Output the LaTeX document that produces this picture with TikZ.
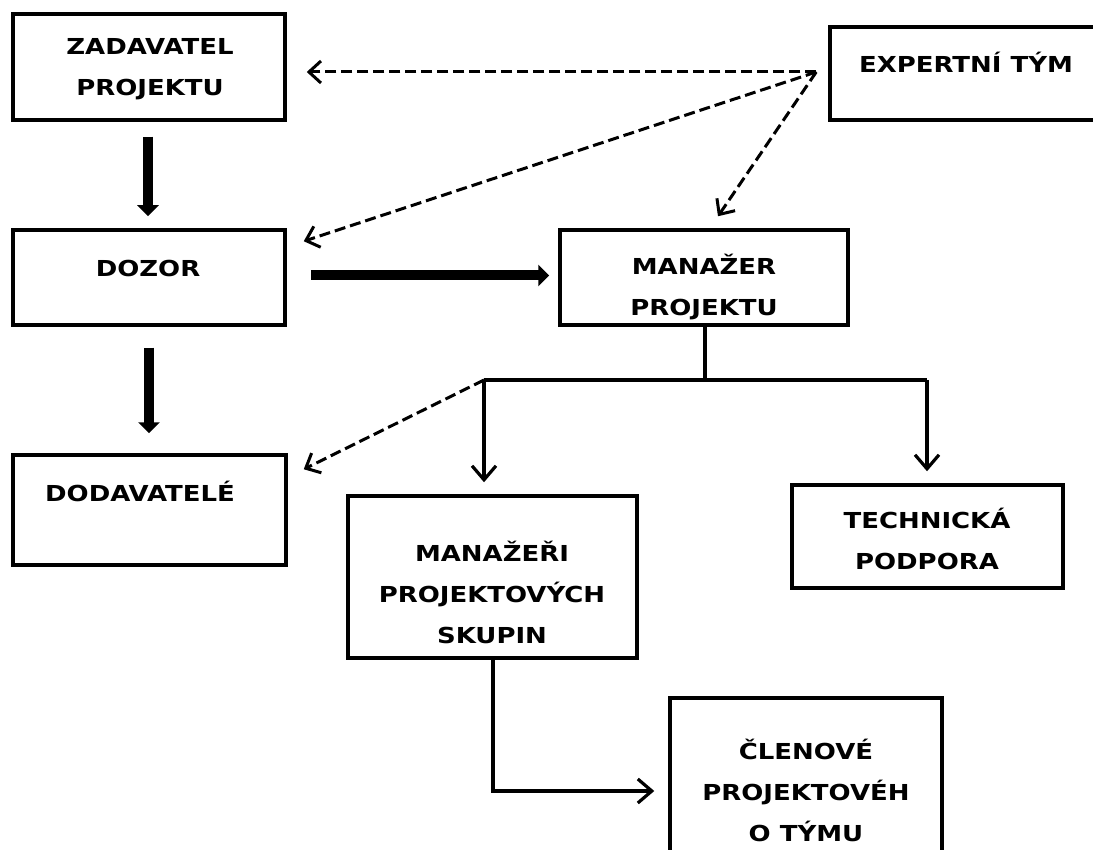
\documentclass[tikz,border=0pt]{standalone}
\usepackage{fontspec}
\setmainfont{DejaVu Sans}[FakeStretch=1.18]
\usetikzlibrary{arrows.meta,calc}
\begin{document}
\begin{tikzpicture}[x=1pt,y=-1pt,
  box/.style={draw,line width=3.5pt,rectangle,inner sep=0pt},
  lbl/.style={font=\fontsize{22}{41}\selectfont\bfseries,align=center,inner sep=0pt},
  dsh/.style={line width=3pt,dash pattern=on 11pt off 5pt,-{Straight Barb[length=12pt,width=22pt,line width=3pt]}},
  thinarr/.style={line width=3.2pt,-{Straight Barb[length=14pt,width=24pt,line width=3.2pt]}},
  plain/.style={line width=3.2pt},
  bigarr/.style={line width=10pt,-{Triangle[length=11pt,width=21pt]}}
]
\useasboundingbox (0,0) rectangle (1093,850);
\clip (0,0) rectangle (1093,850);
\fill[white] (0,0) rectangle (1093,850);

% boxes
\node[box,minimum width=272pt,minimum height=106pt] (zad) at (149,67) {};
\node[box,minimum width=285pt,minimum height=93pt] (exp) at (972.5,73.5) {};
\node[box,minimum width=272pt,minimum height=95pt] (doz) at (149,277.5) {};
\node[box,minimum width=288pt,minimum height=95pt] (mgr) at (704,277.5) {};
\node[box,minimum width=273pt,minimum height=110pt] (dod) at (149.5,510) {};
\node[box,minimum width=289pt,minimum height=162pt] (skup) at (492.5,577) {};
\node[box,minimum width=271pt,minimum height=103pt] (tech) at (927.5,536.5) {};
\node[box,minimum width=272pt,minimum height=172pt] (clen) at (806,784) {};

% texts
\node[lbl] (tzad) at (150,69) {ZADAVATEL\\PROJEKTU};
\node[lbl] (texp) at (966,62) {EXPERTNÍ TÝM};
\node[lbl] (tdoz) at (148,268) {DOZOR};
\node[lbl] (tmgr) at (704,287) {MANAŽER\\PROJEKTU};
\node[lbl] (tdod) at (140,491) {DODAVATELÉ};
\node[lbl] (tskup) at (492,592) {MANAŽEŘI\\PROJEKTOVÝCH\\SKUPIN};
\node[lbl] (ttech) at (927,539) {TECHNICKÁ\\PODPORA};
\node[lbl] (tclen) at (806,790) {ČLENOVÉ\\PROJEKTOVÉH\\O TÝMU};

% thick arrows
\draw[bigarr] ($(zad.south)+(-1,15)$) -- ($(doz.north)+(-1,-12)$);
\draw[bigarr] ($(doz.south)+(0,21)$) -- ($(dod.north)+(-0.5,-20)$);
\draw[bigarr] ($(doz.east)+(24,-2)$) -- ($(mgr.west)+(-9,-2)$);

% dashed arrows from expert team
\coordinate (eo) at ($(exp.west)+(-12,-1.5)$);
\draw[dsh] (eo) -- ($(zad.east)+(20,5)$);
\draw[dsh] (eo) -- ($(doz.north east)+(17,13)$);
\draw[dsh] (eo) -- ($(mgr.north)+(14,-12)$);

% branch from manager
\coordinate (bj) at ($(mgr.south)+(1,55)$);
\coordinate (bl) at (484,380);
\coordinate (br) at (927,380);
\draw[plain] (mgr.south -| bj) -- (bj);
\draw[plain] (bl) -- (br);
\draw[thinarr] (bl) -- ($(bl |- skup.north)+(0,-12)$);
\draw[thinarr] (br) -- ($(br |- tech.north)+(0,-12)$);
\draw[dsh] (bl) -- ($(dod.north east)+(16,16)$);

% group managers to team members
\draw[thinarr] ($(skup.south)+(0.5,0)$) |- ($(clen.west)+(-14,7)$);
\end{tikzpicture}
\end{document}
